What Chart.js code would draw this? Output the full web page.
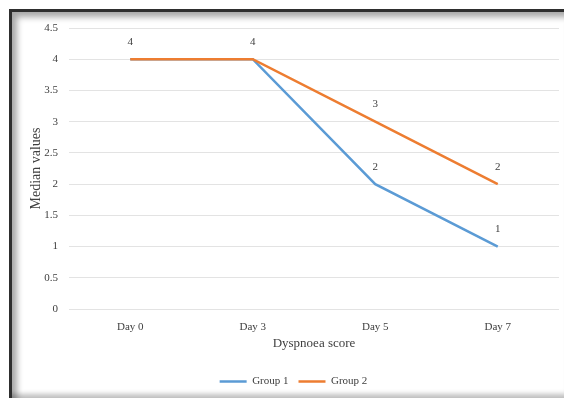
<!DOCTYPE html>
<html><head><meta charset="utf-8">
<script src="https://cdn.jsdelivr.net/npm/chart.js@4/dist/chart.umd.min.js"></script>
<style>
html,body{margin:0;padding:0;background:#fff;width:564px;height:399px;overflow:hidden;}
#wrap{position:absolute;left:0;top:0;width:564px;height:399px;}
#frame{position:absolute;left:9px;top:9px;width:560px;height:386px;border-top:3px solid #2e2e2e;border-left:3px solid #2e2e2e;
box-shadow: inset 5px 5px 6px rgba(0,0,0,0.35), inset -4px -4px 5px rgba(0,0,0,0.25);pointer-events:none;}
</style></head>
<body>
<div id="wrap"><canvas id="c" width="564" height="399"></canvas></div>
<div id="frame"></div>
<script>
const categories = ["Day 0","Day 3","Day 5","Day 7"];
const group1 = [4,4,2,1];
const group2 = [4,4,3,2];
const seriesNames = ["Group 1","Group 2"];
const yTicks = [0,0.5,1,1.5,2,2.5,3,3.5,4,4.5];

const FONT = "'Liberation Serif', 'DejaVu Serif', serif";
const labelPlugin = {
  id:'pointLabels',
  afterDatasetsDraw(chart){
    const ctx = chart.ctx;
    ctx.save();
    ctx.font = "11px " + FONT;
    ctx.fillStyle = "#404040";
    ctx.textAlign = "center";
    ctx.textBaseline = "bottom";
    const m1 = chart.getDatasetMeta(0), m2 = chart.getDatasetMeta(1);
    group2.forEach((v,i)=>{
      const p = m2.data[i];
      ctx.fillText(String(v), p.x, p.y - 12);
    });
    group1.forEach((v,i)=>{
      if (v === group2[i]) return;
      const p = m1.data[i];
      ctx.fillText(String(v), p.x, p.y - 12);
    });
    ctx.restore();
  }
};

new Chart(document.getElementById('c'), {
  type:'line',
  data:{
    labels:categories,
    datasets:[
      {label:seriesNames[0], data:group1, order:1, borderColor:'#5B9BD5', backgroundColor:'#5B9BD5', borderWidth:2.5, pointRadius:0, tension:0},
      {label:seriesNames[1], data:group2, order:0, borderColor:'#ED7D31', backgroundColor:'#ED7D31', borderWidth:2.5, pointRadius:0, tension:0}
    ]
  },
  options:{
    responsive:false, animation:false,
    layout:{padding:{left:28,right:5,top:28,bottom:2}},
    plugins:{
      legend:{position:'bottom', labels:{usePointStyle:true, pointStyle:'line', pointStyleWidth:27, font:{family:FONT,size:11}, color:'#404040', padding:10,
        sort:(a,b)=>a.datasetIndex-b.datasetIndex}},
      tooltip:{enabled:false}
    },
    scales:{
      x:{offset:true, grid:{display:false, drawTicks:false}, border:{display:false},
         afterFit(s){ s.height = 57; },
         ticks:{font:{family:FONT,size:11}, color:'#404040', padding:12},
         title:{display:true, text:'Dyspnoea score', font:{family:FONT,size:13}, color:'#404040', padding:{top:4,bottom:15}}},
      y:{min:0,max:4.5, afterBuildTicks(s){ s.ticks = yTicks.map(v=>({value:v})); },
         afterFit(s){ s.width = 41; },
         grid:{color:'#e3e3e3', drawTicks:false, lineWidth:1}, border:{display:false},
         ticks:{font:{family:FONT,size:11}, color:'#404040', padding:11, callback:(v)=>String(v)},
         title:{display:true, text:'Median values', font:{family:FONT,size:14}, color:'#404040', padding:{top:0,bottom:4}}}
    }
  },
  plugins:[labelPlugin]
});
</script>
</body></html>
